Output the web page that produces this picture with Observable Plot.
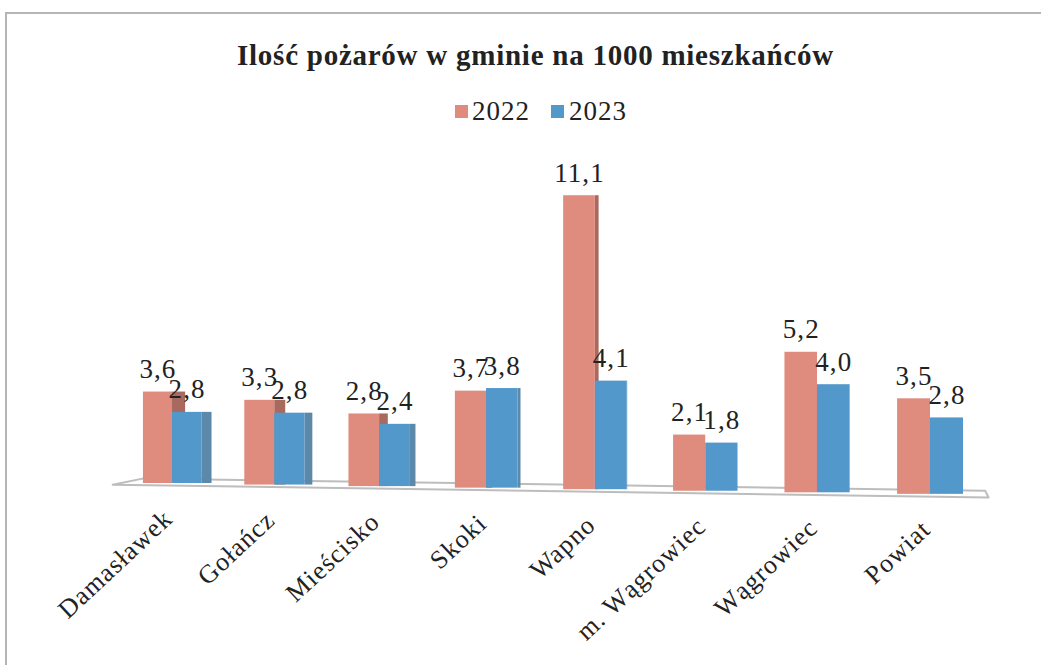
<!DOCTYPE html>
<html lang="pl">
<head>
<meta charset="utf-8">
<script src="https://cdn.jsdelivr.net/npm/d3@7"></script>
<script src="https://cdn.jsdelivr.net/npm/@observablehq/plot@0.6"></script>
<style>
  html, body { margin: 0; padding: 0; background: #fff; }
  body { width: 1041px; height: 665px; overflow: hidden; position: relative; font-family: "Liberation Serif", serif; color: #222; }
  #frame { position: absolute; left: 5px; top: 12px; right: -5px; bottom: -5px; border-top: 2px solid #b5b5b5; border-left: 2px solid #b5b5b5; }
  #title { position: absolute; left: 0; width: 1071px; top: 38px; text-align: center; font-weight: bold; font-size: 29px; line-height: 34px; letter-spacing: 0.75px; }
  #legend { position: absolute; left: 455px; top: 95px; font-size: 27px; line-height: 32px; letter-spacing: 1px; white-space: nowrap; }
  #legend i { position: absolute; top: 10px; width: 13px; height: 13px; }
  #legend span { position: absolute; top: 0; }
  #chart { position: absolute; left: 0; top: 130px; }
  #chart svg { letter-spacing: 1.1px; }
</style>
</head>
<body>
<div id="frame"></div>
<div id="title">Ilość pożarów w gminie na 1000 mieszkańców</div>
<div id="legend"></div>
<div id="chart"></div>
<script>
const categories = ["Damasławek", "Gołańcz", "Mieścisko", "Skoki", "Wapno", "m. Wągrowiec", "Wągrowiec", "Powiat"];
const values2022 = [3.6, 3.3, 2.8, 3.7, 11.1, 2.1, 5.2, 3.5];
const values2023 = [2.8, 2.8, 2.4, 3.8, 4.1, 1.8, 4.0, 2.8];
const seriesNames = ["2022", "2023"];
const seriesColors = ["#df8b7e", "#5398cb"];
const sideColors = ["#a8695e", "#5c88aa"];

// The original is a 3-D chart seen in perspective: the floor falls away to the
// right and nearer bars scale up. These helpers project (category, value) on to it.
const depth = i => i + 3;
const project = (i, v) => v * (0.977 + 0.0104 * i) - 0.0596 * i;
const sideDepth = i => Math.max(0, 0.1 - 0.024 * i);
const barWidth = 0.29;
const floorEdge = [[-0.6, -0.08], [7.51, -0.09], [7.48, 0.17], [-0.3, 0.17], [-0.6, -0.08]];
const comma = v => v.toFixed(1).replace(".", ",");

const rows = categories.map((c, i) => ({c, i, a: values2022[i], b: values2023[i]}));

const plot = Plot.plot({
  width: 1041,
  height: 530,
  margin: 0,
  axis: null,
  x: {type: "pow", exponent: 1.1, domain: [3, 10], range: [172, 930]},
  y: {domain: [0, 12], range: [353, 41]},
  style: {fontFamily: "'Liberation Serif', serif", background: "transparent", overflow: "visible"},
  marks: [
    Plot.line(floorEdge, {x: d => depth(d[0]), y: d => project(d[0], 0) + d[1], stroke: "#bdbdbd", strokeWidth: 2}),
    // 2022
    Plot.rectY(rows.filter(d => sideDepth(d.i) > 0), {x1: d => depth(d.i), x2: d => depth(d.i) + sideDepth(d.i) + 0.03, y1: d => project(d.i, 0), y2: d => project(d.i, d.a), fill: sideColors[0], inset: 0}),
    Plot.rectY(rows, {x1: d => depth(d.i) - barWidth, x2: d => depth(d.i), y1: d => project(d.i, 0), y2: d => project(d.i, d.a), fill: seriesColors[0], inset: 0}),
    // 2023
    Plot.rectY(rows.filter(d => sideDepth(d.i) > 0), {x1: d => depth(d.i) + barWidth, x2: d => depth(d.i) + barWidth + sideDepth(d.i), y1: d => project(d.i, 0), y2: d => project(d.i, d.b), fill: sideColors[1], inset: 0}),
    Plot.rectY(rows, {x1: d => depth(d.i), x2: d => depth(d.i) + barWidth, y1: d => project(d.i, 0), y2: d => project(d.i, d.b), fill: seriesColors[1], inset: 0}),
    // value labels
    Plot.text(rows, {x: d => depth(d.i) - barWidth / 2, y: d => project(d.i, d.a), text: d => comma(d.a), lineAnchor: "bottom", dy: -14, fontSize: 27, fill: "#222"}),
    Plot.text(rows, {x: d => depth(d.i) + barWidth / 2, y: d => project(d.i, d.b), text: d => comma(d.b), lineAnchor: "bottom", dy: -14, fontSize: 27, fill: "#222"}),
    // category labels
    Plot.text(rows, {x: d => depth(d.i), y: d => project(d.i, 0), text: "c", rotate: -43, textAnchor: "end", lineAnchor: "middle", dx: -4, dy: 31, fontSize: 26, fill: "#222"})
  ]
});
document.getElementById("chart").append(plot);

const legend = document.getElementById("legend");
const legendOffsets = [[0, 17], [96, 114]];
seriesNames.forEach((name, k) => {
  const swatch = document.createElement("i");
  swatch.style.left = legendOffsets[k][0] + "px";
  swatch.style.background = seriesColors[k];
  const label = document.createElement("span");
  label.style.left = legendOffsets[k][1] + "px";
  label.textContent = name;
  legend.append(swatch, label);
});
</script>
</body>
</html>
